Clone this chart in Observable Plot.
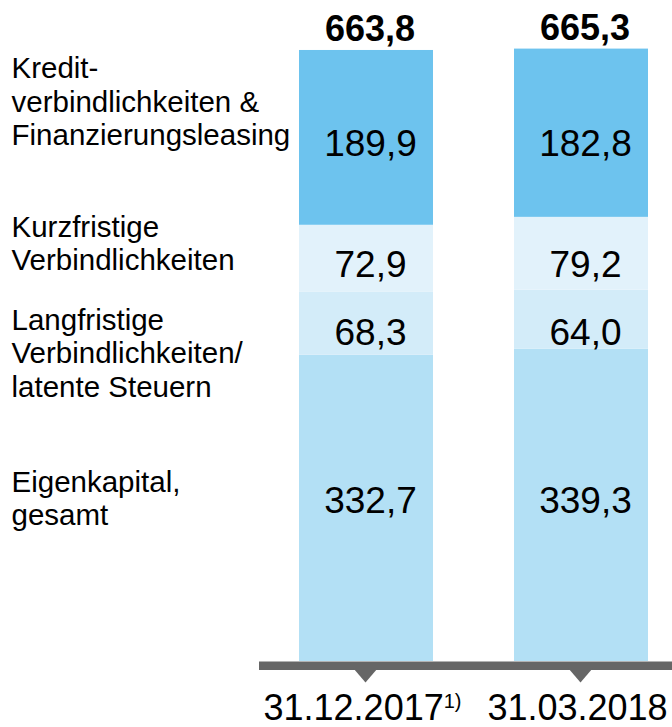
<!DOCTYPE html>
<html>
<head>
<meta charset="utf-8">
<script src="https://cdn.jsdelivr.net/npm/d3@7"></script>
<script src="https://cdn.jsdelivr.net/npm/@observablehq/plot@0.6"></script>
<style>
  html, body { margin: 0; padding: 0; background: #fff; }
  #chart svg { display: block; }
</style>
</head>
<body>
<div id="chart"></div>
<script>
// ---- data ----
const dates = ["31.12.2017", "31.03.2018"];
const footnotes = ["1)", ""];
const categories = ["Eigenkapital", "Langfristige", "Kurzfristige", "Kredit"];
const categoryLabels = [
  "Eigenkapital,\ngesamt",
  "Langfristige\nVerbindlichkeiten/\nlatente Steuern",
  "Kurzfristige\nVerbindlichkeiten",
  "Kredit-\nverbindlichkeiten &\nFinanzierungsleasing"
];
const values2017 = [332.7, 68.3, 72.9, 189.9];
const values2018 = [339.3, 64.0, 79.2, 182.8];
const totals = [663.8, 665.3];

// ---- styling ----
const colors = ["#b3e0f5", "#d3ecf9", "#e2f2fb", "#6dc3ee"];
const labelDy = [112.6, 13.9, -12.4, 4.1];   // left label offsets (px)
const valueDy = [-7.7, 9.0, 6.7, 6.4];       // value label offsets (px)
const font = "'Liberation Sans', Arial, Helvetica, sans-serif";

const locale = d3.formatLocale({decimal: ",", thousands: ".", grouping: [3], currency: ["", " €"]});
const fmt = locale.format(".1f");

const series = [values2017, values2018];
const rows = dates.flatMap((d, i) =>
  categories.map((c, j) => ({date: d, category: c, value: series[i][j]}))
);

// positions of the first bar's segments (data units) used for label rows
const cum = d3.cumsum(values2017);
const segTop = categories.map((c, j) => cum[j]);
const segMid = categories.map((c, j) => cum[j] - values2017[j] / 2);

const downTriangle = {
  draw(ctx) {
    ctx.moveTo(-12, -7);
    ctx.lineTo(12, -7);
    ctx.lineTo(0, 7);
    ctx.closePath();
  }
};

const marks = [
  Plot.barY(rows, {x: "date", y: "value", fill: "category"}),
  Plot.ruleY([0], {stroke: "#666666", strokeWidth: 8.5, dy: 4.25}),
  Plot.dot(dates, {x: d => d, y: () => 0, symbol: downTriangle, fill: "#666666", stroke: "none", dy: 14, dx: -1}),
  Plot.text(dates, {
    x: d => d, y: () => 0, text: d => d,
    lineAnchor: "bottom", dy: 58, dx: -4,
    fontSize: 36, fill: "#000", fontFamily: font
  }),
  Plot.text(dates, {
    x: d => d, y: (d, i) => totals[i], text: (d, i) => fmt(totals[i]),
    lineAnchor: "bottom", dy: -9.5, dx: 3.5,
    fontSize: 36, fontWeight: "bold", fill: "#000", fontFamily: font
  })
];

categories.forEach((c, j) => {
  marks.push(Plot.text(rows.filter(r => r.category === c), {
    x: "date", y: () => segMid[j], text: r => fmt(r.value),
    dy: valueDy[j], dx: 4, fontSize: 37, fill: "#000", fontFamily: font
  }));
  marks.push(Plot.text([categoryLabels[j]], {
    y: () => segTop[j], text: d => d,
    frameAnchor: "left", textAnchor: "start", lineAnchor: "top",
    lineHeight: 1.13, dx: -248, dy: labelDy[j],
    fontSize: 29.5, fill: "#000", fontFamily: font
  }));
});

const chart = Plot.plot({
  width: 672,
  height: 727,
  marginTop: 16.65,
  marginBottom: 66,
  marginLeft: 259,
  marginRight: 0,
  style: {background: "#fff", fontFamily: font, overflow: "visible"},
  x: {domain: dates, range: [277.5, 669.5], paddingInner: 0.377, paddingOuter: 0.1, axis: null},
  y: {domain: [0, 700], axis: null},
  color: {domain: categories, range: colors},
  marks
});

document.getElementById("chart").appendChild(chart);

// superscript footnote markers on date labels
d3.select(chart).selectAll("text").each(function () {
  const i = dates.indexOf(this.textContent);
  if (i >= 0 && footnotes[i]) {
    d3.select(this).append("tspan")
      .attr("dy", -11.6)
      .attr("font-size", 20)
      .text(footnotes[i]);
  }
});
</script>
</body>
</html>
